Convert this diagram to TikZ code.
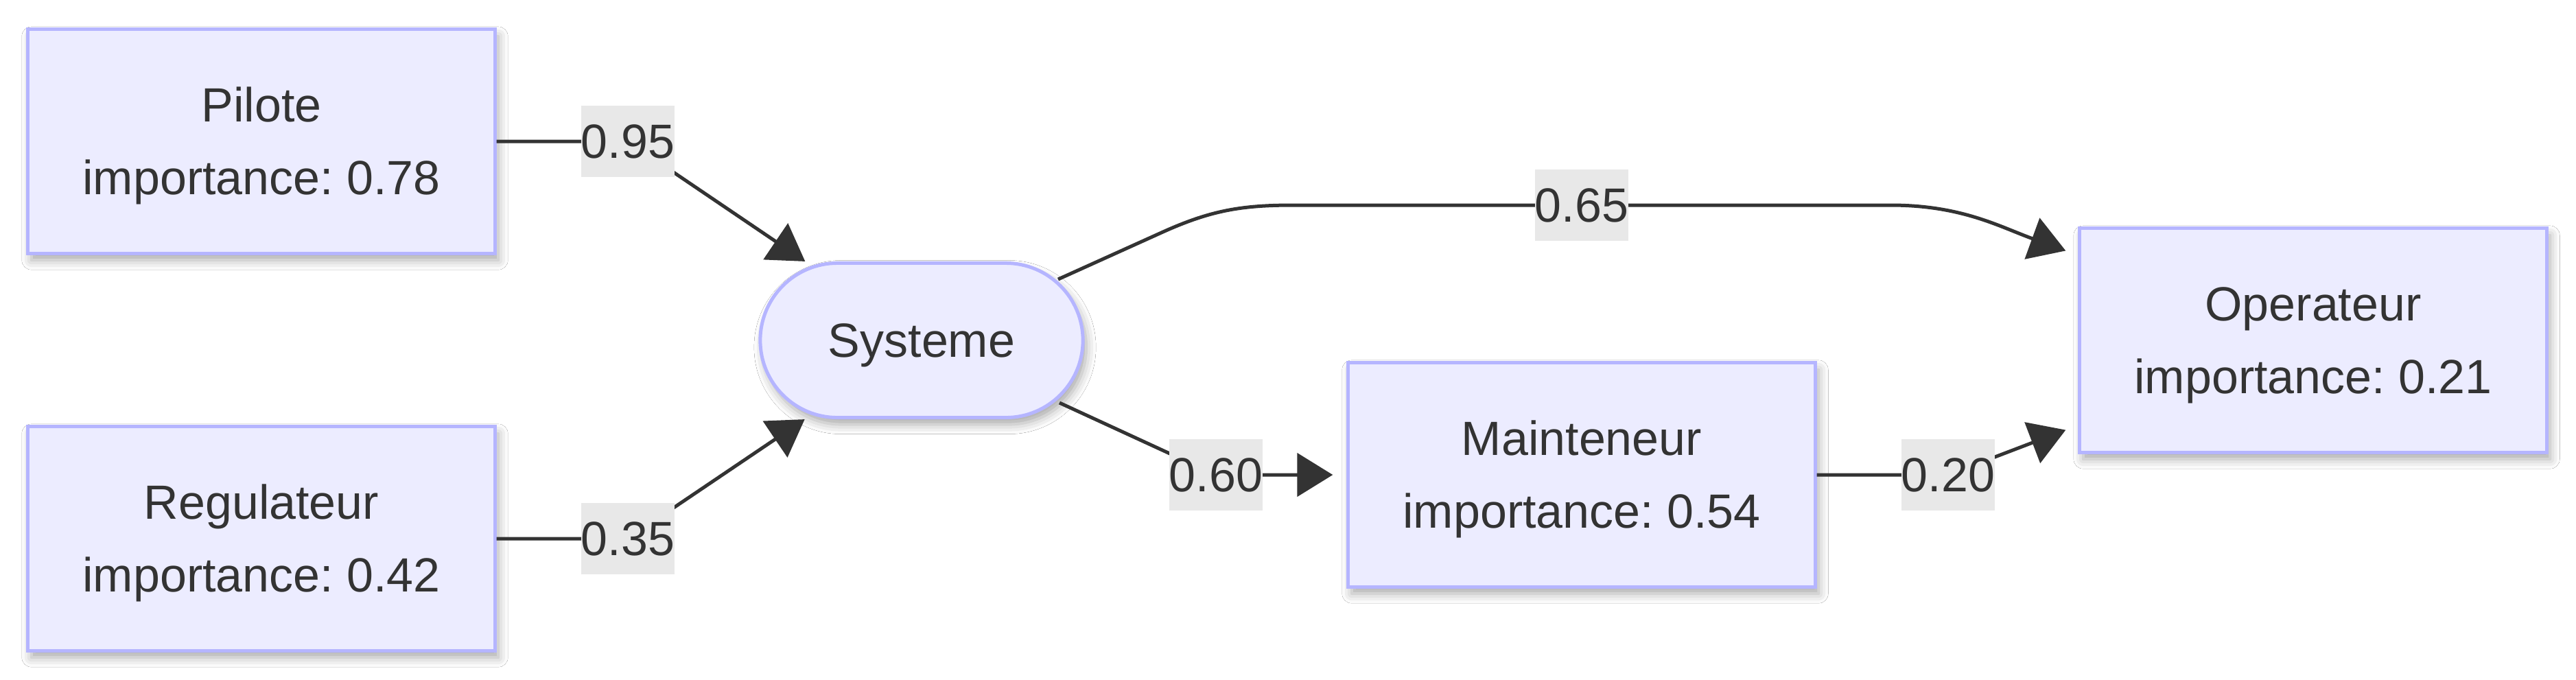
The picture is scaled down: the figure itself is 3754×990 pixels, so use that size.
\documentclass[tikz,border=0pt]{standalone}
\usepackage{fontspec}
\setmainfont{Liberation Sans}
\usetikzlibrary{arrows.meta,calc,shadows.blur}
\definecolor{nodefill}{HTML}{ECECFF}
\definecolor{nodeline}{HTML}{B5B5FF}
\definecolor{edgecol}{HTML}{333333}
\definecolor{labfill}{HTML}{E8E8E8}
\newcommand{\tstrut}{\rule{0pt}{18pt}}
\frenchspacing
\begin{document}
\begin{tikzpicture}[x=0.01cm,y=-0.01cm,
  every node/.style={text=edgecol, font=\fontsize{19.9}{30.1}\selectfont},
  box/.style={draw=nodeline, fill=nodefill, line width=0.05cm,
    minimum width=6.8cm, minimum height=3.26cm, align=center, inner sep=0pt,
    blur shadow={shadow xshift=0.05cm, shadow yshift=-0.1cm, shadow blur radius=0.14cm, shadow opacity=34}},
  pill/.style={box, minimum width=4.7cm, minimum height=2.25cm, rounded corners=1.125cm},
  lab/.style={fill=labfill, inner xsep=0pt, inner ysep=0pt, minimum height=1.04cm, minimum width=1.35cm},
  edge/.style={draw=edgecol, line width=0.05cm, line join=round, -{Triangle[length=0.52cm,width=0.63cm]}},
]
\useasboundingbox (0,0) rectangle (3754,990);
\fill[white] (0,0) rectangle (3754,990);

% nodes
\node[box]  (pil) at (381,206) {\tstrut Pilote\\importance: 0.78};
\node[box]  (reg) at (381,785) {\tstrut Regulateur\\importance: 0.42};
\node[pill] (sys) at (1343,496) {\tstrut Systeme};
\node[box]  (mt)  at (2305,692) {\tstrut Mainteneur\\importance: 0.54};
\node[box]  (op)  at (3371,496) {\tstrut Operateur\\importance: 0.21};

% label positions
\coordinate (c95) at (915,206);
\coordinate (c35) at (915,785);
\coordinate (c65) at (2305,299);
\coordinate (c60) at (1772,692);
\coordinate (c20) at (2839,692);

% free ends
\coordinate (s65) at ($(sys.center)+(199,-89)$);
\coordinate (s60) at ($(sys.center)+(201,91)$);
\coordinate (t65) at ($(op.north west)+(-18,35)$);
\coordinate (t20) at ($(op.south west)+(-18,-35)$);
\coordinate (t60) at ($(mt.west)+(-20,0)$);

% edges
\draw[edge] (pil.east) -- (c95) -- (sys);
\draw[edge] (reg.east) -- (c35) -- (sys);
\draw[edge] (s65) -- ++(155,-70) to[out=24,in=180] ($(c65)+(-420,0)$)
  -- ($(c65)+(450,0)$) to[out=0,in=160] (t65);
\draw[edge] (s60) -- (c60) -- (t60);
\draw[edge] (mt.east) -- (c20) -- (t20);

% edge labels
\node[lab] (l95) at (c95) {0.95};
\node[lab] (l35) at (c35) {0.35};
\node[lab] (l65) at (c65) {0.65};
\node[lab] (l60) at (c60) {0.60};
\node[lab] (l20) at (c20) {0.20};
\end{tikzpicture}
\end{document}
